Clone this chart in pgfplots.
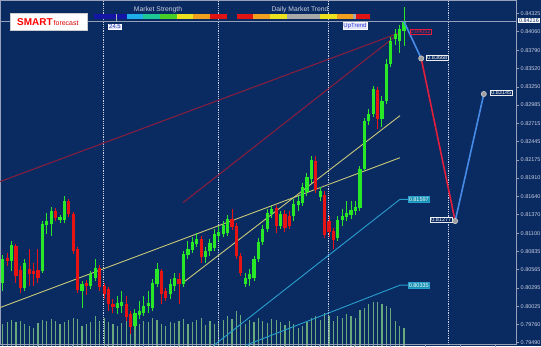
\documentclass[border=0pt]{standalone}
\usepackage{pgfplots}
\pgfplotsset{compat=1.18}
\usepackage{pgfplotstable}
\usepackage{fontspec}
\setmainfont{Liberation Sans}
\definecolor{bg}{RGB}{10,42,98}
\definecolor{cgreen}{RGB}{40,232,40}
\definecolor{cred}{RGB}{232,20,20}
\definecolor{vol}{RGB}{105,170,125}
\definecolor{maroonl}{RGB}{140,30,60}
\definecolor{khaki}{RGB}{200,200,120}
\definecolor{cyanl}{RGB}{40,160,205}
\definecolor{tealbox}{RGB}{25,145,180}
\definecolor{fblue}{RGB}{70,140,230}
\definecolor{fred}{RGB}{225,30,60}
\definecolor{ticktext}{RGB}{200,208,224}
\definecolor{axisgray}{RGB}{150,160,185}
\definecolor{sdblue}{RGB}{20,20,165}
\definecolor{scyan}{RGB}{30,175,235}
\definecolor{steal}{RGB}{30,200,150}
\definecolor{sgreen}{RGB}{70,205,40}
\definecolor{syellow}{RGB}{235,225,30}
\definecolor{sorange}{RGB}{240,160,30}
\definecolor{sred}{RGB}{225,20,20}
\definecolor{sgray}{RGB}{168,168,168}
\definecolor{lblfill}{RGB}{225,228,250}
\definecolor{lbltext}{RGB}{40,60,175}
\definecolor{uptext}{RGB}{50,60,210}

\pgfplotstableread{
x O H L C
0 0.80372 0.80784 0.80254 0.80725
2 0.80695 0.80989 0.80548 0.80931
5 0.80299 0.80725 0.80254 0.80666
9 0.80548 0.81283 0.80519 0.81239
10 0.81225 0.81401 0.81092 0.81283
11 0.81239 0.81489 0.81063 0.81430
13 0.81298 0.81372 0.81254 0.81342
14 0.81298 0.81651 0.81254 0.81577
18 0.80254 0.80401 0.80005 0.80357
20 0.80328 0.80548 0.80284 0.80504
21 0.80446 0.80725 0.80401 0.80593
26 0.80005 0.80181 0.79916 0.80078
27 0.80034 0.80254 0.79931 0.80093
30 0.79740 0.79990 0.79696 0.79931
31 0.79902 0.80107 0.79843 0.79960
32 0.79931 0.80181 0.79887 0.80034
33 0.80034 0.80254 0.79931 0.80078
34 0.80005 0.80431 0.79960 0.80372
35 0.80357 0.80666 0.80313 0.80578
38 0.80210 0.80431 0.80137 0.80357
39 0.80328 0.80519 0.80254 0.80446
41 0.80357 0.80842 0.80313 0.80798
42 0.80784 0.80989 0.80725 0.80872
43 0.80857 0.81048 0.80813 0.80975
44 0.80945 0.81107 0.80901 0.81019
46 0.80754 0.80901 0.80666 0.80842
47 0.80842 0.81019 0.80769 0.80960
48 0.80887 0.81166 0.80842 0.81092
49 0.81063 0.81210 0.80989 0.81122
50 0.81092 0.81283 0.81048 0.81225
51 0.81107 0.81372 0.81063 0.81313
55 0.80357 0.80519 0.80313 0.80446
56 0.80431 0.80578 0.80328 0.80504
57 0.80446 0.80769 0.80401 0.80725
58 0.80725 0.81034 0.80681 0.80975
59 0.80975 0.81225 0.80931 0.81166
60 0.81166 0.81460 0.81122 0.81401
61 0.81386 0.81504 0.81328 0.81460
63 0.81210 0.81430 0.81166 0.81386
66 0.81357 0.81607 0.81283 0.81533
67 0.81519 0.81651 0.81430 0.81577
68 0.81548 0.81842 0.81504 0.81783
69 0.81710 0.81989 0.81651 0.81930
70 0.81901 0.82239 0.81842 0.82180
72 0.81636 0.81783 0.81577 0.81724
76 0.81034 0.81357 0.80989 0.81298
77 0.81298 0.81460 0.81210 0.81357
78 0.81342 0.81577 0.81283 0.81401
79 0.81372 0.81577 0.81313 0.81445
80 0.81430 0.81577 0.81372 0.81489
81 0.81475 0.82092 0.81430 0.82048
82 0.82048 0.82798 0.82018 0.82753
83 0.82753 0.82930 0.82695 0.82856
84 0.82856 0.83268 0.82812 0.83224
86 0.82783 0.83121 0.82665 0.83047
87 0.83047 0.83665 0.83003 0.83591
88 0.83591 0.83988 0.83547 0.83929
89 0.83959 0.84106 0.83871 0.84032
90 0.83929 0.84165 0.83753 0.84106
91 0.84076 0.84429 0.83856 0.84209
}\greencandles

\pgfplotstableread{
x O H L C
1 0.80740 0.80813 0.80622 0.80695
3 0.80916 0.80945 0.80372 0.80475
4 0.80563 0.80622 0.80225 0.80299
6 0.80578 0.80872 0.80328 0.80504
7 0.80548 0.80666 0.80328 0.80504
8 0.80563 0.80872 0.80372 0.80446
12 0.81430 0.81475 0.81283 0.81328
15 0.81577 0.81607 0.81342 0.81386
16 0.81386 0.81416 0.80798 0.80842
17 0.80872 0.80901 0.80225 0.80269
19 0.80372 0.80416 0.80196 0.80328
22 0.80593 0.80637 0.80254 0.80313
23 0.80328 0.80372 0.80137 0.80210
24 0.80284 0.80313 0.79960 0.80063
25 0.80063 0.80137 0.79931 0.80019
28 0.80063 0.80181 0.79813 0.79872
29 0.79916 0.79960 0.79622 0.79725
36 0.80548 0.80578 0.80063 0.80210
37 0.80254 0.80299 0.80107 0.80152
40 0.80431 0.80519 0.80063 0.80357
45 0.81019 0.81063 0.80666 0.80754
52 0.81313 0.81460 0.81151 0.81195
53 0.81210 0.81254 0.80725 0.80769
54 0.80769 0.80813 0.80475 0.80519
62 0.81475 0.81519 0.81107 0.81210
64 0.81386 0.81445 0.81122 0.81181
65 0.81357 0.81430 0.81166 0.81210
71 0.82165 0.82239 0.81695 0.81739
73 0.81666 0.81724 0.81034 0.81078
74 0.81283 0.81357 0.81048 0.81122
75 0.81136 0.81181 0.80872 0.81004
85 0.83209 0.83253 0.82636 0.82783
}\redcandles

\pgfplotstableread{
x v
0 22
1 24
2 26
3 24
4 25
5 22
6 20
7 18
8 23
9 26
10 25
11 27
12 25
13 22
14 24
15 26
16 28
17 27
18 20
19 22
20 24
21 30
22 25
23 28
24 24
25 22
26 20
27 23
28 26
29 29
30 27
31 22
32 25
33 24
34 28
35 26
36 22
37 20
38 24
39 23
40 25
41 27
42 22
43 24
44 26
45 28
46 21
47 25
48 22
49 24
50 26
51 30
52 27
53 35
54 31
55 22
56 26
57 24
58 28
59 25
60 23
61 27
62 26
63 24
64 21
65 25
66 22
67 18
68 20
69 24
70 28
71 30
72 26
73 33
74 30
75 25
76 30
77 28
78 32
79 30
80 28
81 36
82 38
83 42
84 44
85 44
86 42
87 40
88 38
89 25
90 20
91 18
}\volumes

\begin{document}
\begin{tikzpicture}[x=1bp,y=1bp]
\fill[bg] (0,0) rectangle (541,346);
\useasboundingbox (0,0) rectangle (541,346);

% volume
\begin{axis}[at={(0,0)}, anchor=south west, scale only axis,
  width=516bp, height=346bp, xmin=-0.612, xmax=116.4, ymin=0, ymax=346,
  hide axis]
\addplot[ycomb, draw=vol, line width=1.2bp, mark=none] table[x=x,y=v] {\volumes};
\end{axis}

\begin{axis}[at={(0,2)}, anchor=south west, scale only axis,
  width=516bp, height=344bp,
  xmin=-0.612, xmax=116.4, ymin=0.794606, ymax=0.845174,
  axis line style={draw=axisgray, line width=0.8bp},
  scaled y ticks=false,
  ytick={0.84325,0.84060,0.83790,0.83520,0.83250,0.82985,0.82715,0.82445,0.82175,0.81910,0.81640,0.81370,0.81100,0.80835,0.80565,0.80295,0.80025,0.79760,0.79490},
  yticklabels={0.84325,0.84060,0.83790,0.83520,0.83250,0.82985,0.82715,0.82445,0.82175,0.81910,0.81640,0.81370,0.81100,0.80835,0.80565,0.80295,0.80025,0.79760,0.79490},
  ytick pos=right, yticklabel pos=right,
  xtick={7.8,15.8,...,111.8}, xticklabels={}, xtick pos=bottom,
  tick align=outside, major tick length=3bp,
  tick style={draw=axisgray, line width=0.6bp},
  yticklabel style={font=\fontsize{5.5}{6}\selectfont, text=ticktext, inner sep=1.5bp},
]
% day separators
\addplot[draw=ticktext, densely dotted, line width=0.8bp] coordinates {(22.8,0.7946) (22.8,0.8452)};
\addplot[draw=ticktext, densely dotted, line width=0.8bp] coordinates {(48.8,0.7946) (48.8,0.8452)};
\addplot[draw=ticktext, densely dotted, line width=0.8bp] coordinates {(73.8,0.7946) (73.8,0.8452)};
\addplot[draw=ticktext, densely dotted, line width=0.8bp] coordinates {(101.0,0.7946) (101.0,0.8452)};
% current price line
\addplot[draw=axisgray, line width=0.8bp] coordinates {(-0.612,0.84216) (116.4,0.84216)};
% red trend lines
\addplot[draw=maroonl, line width=1bp] coordinates {(-0.61,0.81857) (90.1,0.84047)};
\addplot[draw=maroonl, line width=1bp] coordinates {(40.9,0.81548) (90.1,0.84047)};
% yellow trend lines
\addplot[draw=khaki, line width=0.9bp] coordinates {(-0.61,0.80005) (90.1,0.82209)};
\addplot[draw=khaki, line width=0.9bp] coordinates {(40.9,0.80372) (90.1,0.82827)};
% cyan lines
\addplot[draw=cyanl, line width=0.9bp] coordinates {(47.5,0.79431) (90.1,0.81597) (91.9,0.81597)};
\addplot[draw=cyanl, line width=0.9bp] coordinates {(54.3,0.79431) (90.1,0.80335) (91.9,0.80335)};
% wicks
\addplot[draw=none, mark=none, forget plot, error bars/.cd, y dir=plus, y explicit, error mark=none,
  error bar style={draw=cgreen, line width=1bp}]
  table[x=x, y=L, y error plus expr=\thisrow{H}-\thisrow{L}] {\greencandles};
\addplot[draw=none, mark=none, forget plot, error bars/.cd, y dir=plus, y explicit, error mark=none,
  error bar style={draw=cred, line width=1bp}]
  table[x=x, y=L, y error plus expr=\thisrow{H}-\thisrow{L}] {\redcandles};
% bodies
\addplot[draw=none, mark=none, forget plot, error bars/.cd, y dir=plus, y explicit, error mark=none,
  error bar style={draw=cgreen, line width=3.2bp}]
  table[x=x, y=O, y error plus expr=\thisrow{C}-\thisrow{O}] {\greencandles};
\addplot[draw=none, mark=none, forget plot, error bars/.cd, y dir=plus, y explicit, error mark=none,
  error bar style={draw=cred, line width=3.2bp}]
  table[x=x, y=C, y error plus expr=\thisrow{O}-\thisrow{C}] {\redcandles};
% forecast path
\addplot[draw=fblue, line width=1.6bp] coordinates {(91,0.84209) (94.9,0.83668)};
\addplot[draw=fred, line width=1.6bp] coordinates {(94.9,0.83668) (102.6,0.81277)};
\addplot[draw=fblue, line width=1.6bp] coordinates {(102.6,0.81277) (109.1,0.83145)};
\addplot[only marks, mark=*, mark size=2.6bp, mark options={fill=gray!75, draw=gray!40, line width=0.6bp}]
  coordinates {(94.9,0.83668) (102.6,0.81277) (109.1,0.83145)};
% labels
\node[draw=fred, fill=bg, text=fred, inner sep=0.7bp, font=\fontsize{5.5}{6}\selectfont, anchor=west] at (axis cs:92.3,0.84062) {0.84052};
\node[draw=white!85!gray, fill=bg, text=white, inner sep=0.7bp, font=\fontsize{5.5}{6}\selectfont, anchor=west] at (axis cs:96.1,0.83680) {0.83668};
\node[draw=white!85!gray, fill=bg, text=white, inner sep=0.7bp, font=\fontsize{5.5}{6}\selectfont, anchor=east] at (axis cs:101.9,0.81300) {0.81277};
\node[draw=white!85!gray, fill=bg, text=white, inner sep=0.7bp, font=\fontsize{5.5}{6}\selectfont, anchor=west] at (axis cs:110.6,0.83160) {0.83145};
\node[draw=cyanl, fill=tealbox, text=white, inner sep=0.7bp, font=\fontsize{5.5}{6}\selectfont, anchor=west] at (axis cs:91.9,0.81597) {0.81597};
\node[draw=cyanl, fill=tealbox, text=white, inner sep=0.7bp, font=\fontsize{5.5}{6}\selectfont, anchor=west] at (axis cs:91.9,0.80335) {0.80335};
\end{axis}

% current price label
\node[fill=white, text=bg, inner sep=0.8bp, font=\fontsize{5.5}{6}\selectfont, anchor=west] at (518,325.5) {0.84216};

% SMART forecast box
\fill[white, draw=gray!40] (10,316) rectangle (87,333);
\node[anchor=base west, text=red, font=\bfseries\fontsize{10}{10}\selectfont, inner sep=0] at (17,321) {SMART};
\node[anchor=base west, text=red!85!black, font=\fontsize{7}{7}\selectfont, inner sep=0] at (53.5,321) {forecast};

% Market Strength bar
\fill[sdblue] (94,327) rectangle (127,332);
\fill[scyan] (127,327) rectangle (143,332);
\fill[steal] (143,327) rectangle (160,332);
\fill[sgreen] (160,327) rectangle (177,332);
\fill[syellow] (177,327) rectangle (193,332);
\fill[sorange] (193,327) rectangle (210,332);
\fill[sred] (210,327) rectangle (227,332);
\draw[gray!60, line width=0.8bp] (116,324) -- (116,332);
\node[text=ticktext, font=\fontsize{6.8}{7}\selectfont] at (158,336.5) {Market Strength};
\node[fill=lblfill, draw=white, text=lbltext, inner sep=0.6bp, font=\fontsize{6}{6}\selectfont] at (115,319.5) {24.5};

% Daily Market Trend bar
\fill[sred] (237,327) rectangle (253,332);
\fill[sorange] (253,327) rectangle (270,332);
\fill[syellow] (270,327) rectangle (287,332);
\fill[sgray] (287,327) rectangle (320,332);
\fill[syellow] (320,327) rectangle (337,332);
\fill[sorange] (337,327) rectangle (353,332);
\fill[sgray] (353,327) rectangle (356,332);
\fill[sred] (356,327) rectangle (370,332);
\node[text=ticktext, font=\fontsize{6.8}{7}\selectfont] at (300,336.5) {Daily Market Trend};
\node[fill=lblfill, draw=white, text=uptext, inner sep=0.6bp, font=\fontsize{6}{6}\selectfont] at (355,320) {UpTrend};
\end{tikzpicture}
\end{document}
